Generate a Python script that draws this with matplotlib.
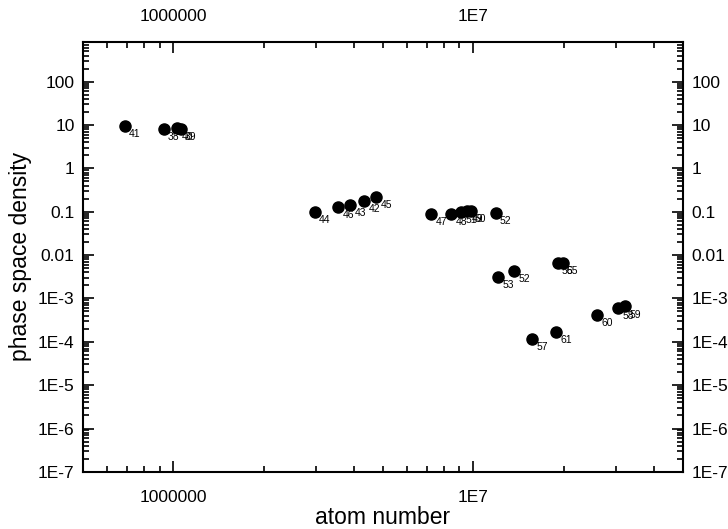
import math
import matplotlib.pyplot as plt
from matplotlib.ticker import LogLocator, FuncFormatter, NullFormatter

plt.rcParams['font.family'] = ['Liberation Sans', 'DejaVu Sans']

# atom number, phase space density and run number for each shot
atoms = [6.9e5, 9.3e5, 1.03e6, 1.06e6,
         2.97e6, 3.55e6, 3.89e6, 4.33e6, 4.75e6,
         7.24e6, 8.45e6, 9.1e6, 9.55e6, 9.8e6, 1.19e7,
         1.21e7, 1.37e7, 1.91e7, 1.99e7,
         2.59e7, 3.04e7, 3.21e7, 1.57e7, 1.89e7]
psd = [9.6, 8.3, 8.4, 8.2,
       0.10, 0.13, 0.145, 0.18, 0.22,
       0.089, 0.09, 0.098, 0.105, 0.105, 0.095,
       3.2e-3, 4.4e-3, 6.6e-3, 6.6e-3,
       4.2e-4, 6.0e-4, 6.6e-4, 1.17e-4, 1.7e-4]
runs = ['41', '38', '40', '39',
        '44', '46', '43', '42', '45',
        '47', '48', '51', '49', '50', '52',
        '53', '52', '56', '55',
        '60', '58', '59', '57', '61']


def fmt_x(v, pos):
    if abs(v - 1e6) < 1:
        return '1000000'
    if abs(v - 1e7) < 10:
        return '1E7'
    return ''


def fmt_y(v, pos):
    labels = {1e2: '100', 1e1: '10', 1e0: '1', 1e-1: '0.1', 1e-2: '0.01'}
    for k, s in labels.items():
        if abs(v / k - 1) < 1e-6:
            return s
    if v < 0.005:
        return '1E%d' % round(math.log10(v))
    return ''


fig = plt.figure(figsize=(7.28, 5.29), dpi=100)
ax = fig.add_axes([0.114, 0.108, 0.824, 0.813])

ax.plot(atoms, psd, 'o', color='black', markersize=8, linestyle='none')
for x, y, r in zip(atoms, psd, runs):
    ax.annotate(r, (x, y), xytext=(3, -6), textcoords='offset points',
                fontsize=7.5, ha='left', va='center')

ax.set_xscale('log')
ax.set_yscale('log')
ax.set_xlim(5e5, 5e7)
ax.set_ylim(1e-7, 830)

ax.xaxis.set_major_locator(LogLocator(base=10, numticks=10))
ax.xaxis.set_minor_locator(LogLocator(base=10, subs=range(2, 10), numticks=20))
ax.yaxis.set_major_locator(LogLocator(base=10, numticks=20))
ax.yaxis.set_minor_locator(LogLocator(base=10, subs=range(2, 10), numticks=40))
ax.xaxis.set_major_formatter(FuncFormatter(fmt_x))
ax.xaxis.set_minor_formatter(NullFormatter())
ax.yaxis.set_major_formatter(FuncFormatter(fmt_y))
ax.yaxis.set_minor_formatter(NullFormatter())

ax.tick_params(which='both', direction='in', top=True, right=True,
               labeltop=True, labelright=True, labelsize=12.5, width=1.2)
ax.tick_params(which='major', length=8)
ax.tick_params(which='minor', length=4)
ax.tick_params(axis='x', which='major', pad=13)
ax.tick_params(axis='y', which='major', pad=6)
for s in ax.spines.values():
    s.set_linewidth(1.5)

ax.set_xlabel('atom number', fontsize=16.5, labelpad=1)
ax.set_ylabel('phase space density', fontsize=16.5, labelpad=4)

fig.savefig('out.png', dpi=100)
